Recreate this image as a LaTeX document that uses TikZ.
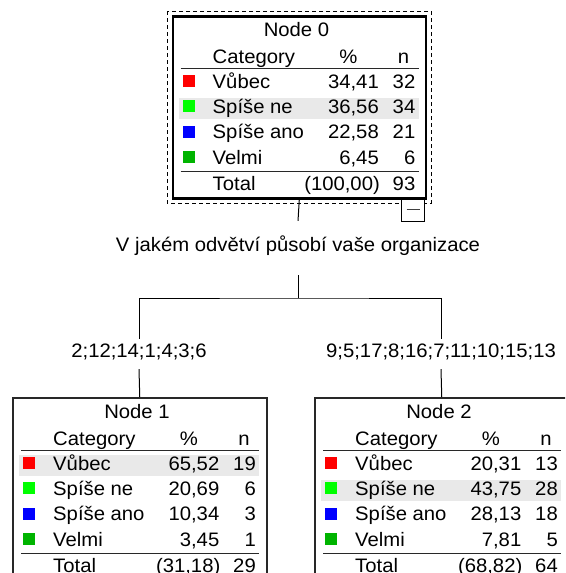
\documentclass[tikz,border=0pt]{standalone}
\usepackage{fontspec}
\setmainfont{Liberation Sans}[FakeStretch=1.04]
\definecolor{cRed}{RGB}{255,0,0}
\definecolor{cLime}{RGB}{0,255,0}
\definecolor{cBlue}{RGB}{0,0,255}
\definecolor{cGreen}{RGB}{0,180,0}
\definecolor{hlgray}{RGB}{233,233,233}
\definecolor{boxline}{RGB}{40,40,40}
\tikzset{
  txt/.style={font=\fontsize{19.5}{22}\selectfont, inner sep=0pt, text=black},
  rule/.style={line width=1.5pt, draw=boxline},
  conn/.style={line width=1pt, draw=black},
  box0/.style={draw=black, line width=2.6pt, inner sep=0pt, anchor=north west},
  boxn/.style={draw=boxline, line width=1.5pt, inner sep=0pt, anchor=north west},
  selbox/.style={draw=black, line width=1pt, dash pattern=on 4pt off 3pt},
  splitlbl/.style={txt, anchor=base, text height=12pt, text depth=6pt, inner ysep=6pt},
  qlbl/.style={txt, anchor=base, text height=12pt, text depth=6pt, inner ysep=18pt},
}
% one category row: #1 prefix, #2 baseline, #3 colour, #4 label, #5 percent, #6 n
\newcommand\catrow[6]{%
  \fill[#3] (11,#2-13) rectangle (23,#2-1);
  \node[txt,anchor=base west] (#1l) at (41,#2) {#4};
  \node[txt,anchor=base east] (#1p) at (207.5,#2) {#5};
  \node[txt,anchor=base east] (#1n) at (244,#2) {#6};
}
% table frame: #1 prefix, #2 title
\newcommand\tablehead[2]{%
  \node[txt,anchor=base] (#1t) at (125,21.5) {#2};
  \node[txt,anchor=base west] (#1hc) at (41,48) {Category};
  \node[txt,anchor=base] (#1hp) at (177,48) {\%};
  \node[txt,anchor=base] (#1hn) at (232,48) {n};
  \draw[rule] (9,53.5) -- (247,53.5);
  \draw[rule] (9,156.5) -- (247,156.5);
}
\newcommand\hlrow[1]{\fill[hlgray] (7,#1-15.5) rectangle (247,#1+6);}
\newcommand\totalrow[3]{%
  \node[txt,anchor=base west] (#1tl) at (41,175) {Total};
  \node[txt,anchor=base east] (#1tp) at (208.5,175) {#2};
  \node[txt,anchor=base east] (#1tn) at (244,175) {#3};
}
\begin{document}
\begin{tikzpicture}[x=1pt,y=-1pt]
\useasboundingbox (0,0) rectangle (565,573);
\clip (0,0) rectangle (565,573);
\fill[white] (0,0) rectangle (565,573);

% ---------- Node 0 ----------
\begin{scope}[shift={(171.5,15)}]
  \hlrow{98.3}
  \tablehead{a}{Node 0}
  \catrow{a1}{73}{cRed}{Vůbec}{34,41}{32}
  \catrow{a2}{98.3}{cLime}{Spíše ne}{36,56}{34}
  \catrow{a3}{123.7}{cBlue}{Spíše ano}{22,58}{21}
  \catrow{a4}{149}{cGreen}{Velmi}{6,45}{6}
  \totalrow{a}{(100,00)}{93}
\end{scope}
\draw[selbox] (167,11) rectangle (431,203);
\node[draw=black, line width=1pt, fill=white, minimum width=23pt, minimum height=24pt, inner sep=0pt, anchor=north west] (tg) at (401,197) {};
\draw[line width=1.6pt, draw=black!75] ([xshift=-6.5pt]tg.center) -- ([xshift=6.5pt]tg.center);
\node[box0, minimum width=253pt, minimum height=182pt] (n0) at (171.5,15) {};

% ---------- split ----------
\node[qlbl] (q) at (298,251) {V jakém odvětví působí vaše organizace};
\coordinate (split) at (298,298);
\node[splitlbl] (l1) at (139,357) {2;12;14;1;4;3;6};
\node[splitlbl] (l2) at (441,357) {9;5;17;8;16;7;11;10;15;13};

% ---------- Node 1 ----------
\begin{scope}[shift={(12,397)}]
  \hlrow{73}
  \tablehead{b}{Node 1}
  \catrow{b1}{73}{cRed}{Vůbec}{65,52}{19}
  \catrow{b2}{98.3}{cLime}{Spíše ne}{20,69}{6}
  \catrow{b3}{123.7}{cBlue}{Spíše ano}{10,34}{3}
  \catrow{b4}{149}{cGreen}{Velmi}{3,45}{1}
  \totalrow{b}{(31,18)}{29}
\end{scope}
\node[boxn, minimum width=254pt, minimum height=200pt] (n1) at (12,397) {};

% ---------- Node 2 ----------
\begin{scope}[shift={(314,397)}]
  \hlrow{98.3}
  \tablehead{c}{Node 2}
  \catrow{c1}{73}{cRed}{Vůbec}{20,31}{13}
  \catrow{c2}{98.3}{cLime}{Spíše ne}{43,75}{28}
  \catrow{c3}{123.7}{cBlue}{Spíše ano}{28,13}{18}
  \catrow{c4}{149}{cGreen}{Velmi}{7,81}{5}
  \totalrow{c}{(68,82)}{64}
\end{scope}
\node[boxn, minimum width=254pt, minimum height=200pt] (n2) at (314,397) {};

% ---------- connectors ----------
\draw[conn] (n0.south) -- (q.north);
\draw[conn] (q.south) -- (split);
\draw[conn] (l1.north) |- (split) -| (l2.north);
\draw[conn] (l1.south) -- (n1.north);
\draw[conn] (l2.south) -- (n2.north);
\end{tikzpicture}
\end{document}
